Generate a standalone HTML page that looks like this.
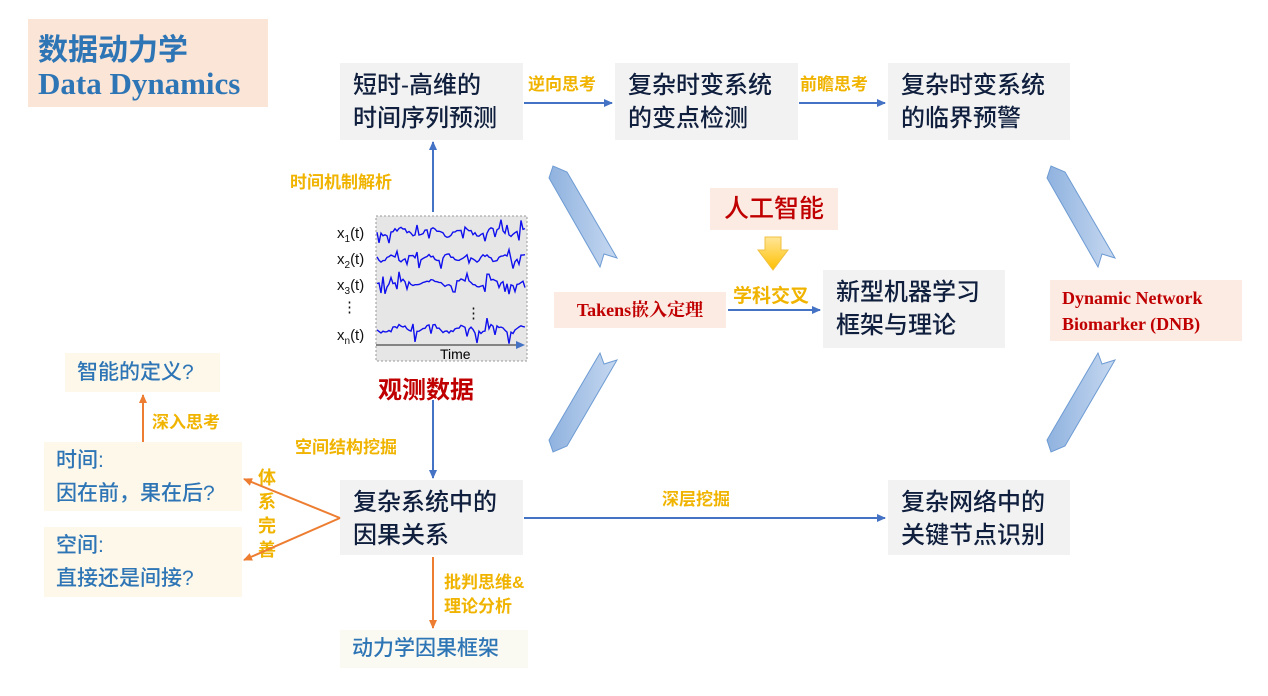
<!DOCTYPE html>
<html><head><meta charset="utf-8"><style>
body{margin:0;width:1268px;height:696px;background:#fff;position:relative;overflow:hidden;font-family:"Liberation Sans","Noto Sans CJK SC",sans-serif}
.a{position:absolute}
.g{position:absolute;background:#f2f2f2;color:#0f1f3d;font-size:24px;font-weight:500;line-height:33px;padding:6px 0 0 13px;box-sizing:border-box}
.o{position:absolute;color:#f0b400;font-weight:bold;font-size:17px;white-space:nowrap}
.y{position:absolute;background:#fdf8ea;color:#2e75b6;font-size:21px;font-weight:500;line-height:33px;box-sizing:border-box;padding-left:12px}
.p{position:absolute;background:#fcebe3;color:#c00000;font-weight:bold;font-family:"Liberation Serif","Noto Serif CJK SC",serif}
</style></head><body>
<div class="a" style="left:28px;top:19px;width:240px;height:88px;background:#fbe5d6;color:#2e75b6;font-weight:bold">
<div style="position:absolute;left:10px;top:6px;font-size:30px">数据动力学</div>
<div style="position:absolute;left:10px;top:47px;font-size:31px;font-family:'Liberation Serif',serif">Data Dynamics</div></div>

<div class="g" style="left:340px;top:63px;width:183px;height:77px">短时-高维的<br>时间序列预测</div>
<div class="g" style="left:615px;top:63px;width:183px;height:77px">复杂时变系统<br>的变点检测</div>
<div class="g" style="left:888px;top:63px;width:182px;height:77px">复杂时变系统<br>的临界预警</div>
<div class="g" style="left:823px;top:270px;width:182px;height:78px">新型机器学习<br>框架与理论</div>
<div class="g" style="left:340px;top:480px;width:183px;height:75px">复杂系统中的<br>因果关系</div>
<div class="g" style="left:888px;top:480px;width:182px;height:75px">复杂网络中的<br>关键节点识别</div>

<div class="o" style="left:528px;top:70px">逆向思考</div>
<div class="o" style="left:800px;top:70px">前瞻思考</div>
<div class="o" style="left:290px;top:168px">时间机制解析</div>
<div class="o" style="left:733px;top:281px;font-size:19px">学科交叉</div>
<div class="o" style="left:295px;top:433px">空间结构挖掘</div>
<div class="o" style="left:662px;top:485px">深层挖掘</div>
<div class="o" style="left:444px;top:571px;line-height:24px">批判思维&amp;<br>理论分析</div>
<div class="o" style="left:152px;top:408px">深入思考</div>
<div class="o" style="left:258px;top:466px;line-height:24px;font-size:18px">体<br>系<br>完<br>善</div>

<div class="p" style="left:710px;top:188px;width:128px;height:42px;font-family:'Liberation Sans','Noto Sans CJK SC',sans-serif;font-weight:500;font-size:25px;line-height:42px;text-align:center">人工智能</div>
<div class="p" style="left:554px;top:292px;width:172px;height:36px;font-size:18px;line-height:36px;text-align:center">Takens嵌入定理</div>
<div class="p" style="left:1050px;top:280px;width:192px;height:61px;font-size:18px;line-height:26px;padding:5px 0 0 12px;box-sizing:border-box">Dynamic Network<br>Biomarker (DNB)</div>
<div class="a" style="left:378px;top:370px;color:#c00000;font-size:24px;font-weight:bold">观测数据</div>

<div class="y" style="left:65px;top:353px;width:155px;height:39px;line-height:39px">智能的定义?</div>
<div class="y" style="left:44px;top:442px;width:198px;height:69px;padding-top:2px">时间:<br>因在前，果在后?</div>
<div class="y" style="left:44px;top:527px;width:198px;height:70px;padding-top:2px">空间:<br>直接还是间接?</div>
<div class="y" style="left:340px;top:630px;width:188px;height:38px;line-height:38px;background:#fafaf2">动力学因果框架</div>

<svg class="a" style="left:0;top:0" width="1268" height="696">
<defs>
<marker id="mb" markerWidth="10" markerHeight="10" refX="8" refY="5" orient="auto" markerUnits="userSpaceOnUse"><path d="M0,1 L9,5 L0,9z" fill="#4472c4"/></marker>
<marker id="mo" markerWidth="10" markerHeight="10" refX="8" refY="5" orient="auto" markerUnits="userSpaceOnUse"><path d="M0,1 L9,5 L0,9z" fill="#ed7d31"/></marker>
<linearGradient id="ch" x1="0" y1="0" x2="1" y2="0"><stop offset="0" stop-color="#8fb2df"/><stop offset="1" stop-color="#c6d8f0"/></linearGradient>
<linearGradient id="yl" x1="0" y1="0" x2="0" y2="1"><stop offset="0" stop-color="#ffe699"/><stop offset="1" stop-color="#ffc000"/></linearGradient>
</defs>
<g stroke="#4472c4" stroke-width="2" fill="none">
<line x1="524" y1="103" x2="612" y2="103" marker-end="url(#mb)"/>
<line x1="799" y1="103" x2="885" y2="103" marker-end="url(#mb)"/>
<line x1="433" y1="212" x2="433" y2="142" marker-end="url(#mb)"/>
<line x1="433" y1="400" x2="433" y2="478" marker-end="url(#mb)"/>
<line x1="728" y1="310" x2="820" y2="310" marker-end="url(#mb)"/>
<line x1="524" y1="518" x2="885" y2="518" marker-end="url(#mb)"/>
</g>
<g stroke="#ed7d31" stroke-width="2" fill="none">
<line x1="143" y1="442" x2="143" y2="395" marker-end="url(#mo)"/>
<line x1="340" y1="518" x2="244" y2="479" marker-end="url(#mo)"/>
<line x1="340" y1="518" x2="244" y2="560" marker-end="url(#mo)"/>
<line x1="433" y1="557" x2="433" y2="628" marker-end="url(#mo)"/>
</g>
<path d="M765,237 L781,237 L781,250 L788,250 L773,270 L758,250 L765,250z" fill="url(#yl)" stroke="#f0c040"/>
<g fill="url(#ch)" stroke="#6d9bd3" stroke-width="1">
<path d="M549,178 L553,166 L567,172 L617,258 L604,254 L600,267 Z"/>
<path d="M617,360 L604,364 L600,353 L549,440 L553,452 L567,446 Z"/>
<path d="M1047,178 L1051,166 L1065,172 L1115,258 L1102,254 L1098,267 Z"/>
<path d="M1115,360 L1102,364 L1098,353 L1047,440 L1051,452 L1065,446 Z"/>
</g>
<rect x="376" y="216" width="151" height="145" fill="#e6e6e6" stroke="#999" stroke-dasharray="2,2"/>
<line x1="376" y1="345" x2="524" y2="345" stroke="#222" marker-end="url(#mb)"/>
<text x="440" y="359" font-size="14" font-family="Liberation Sans">Time</text>
<g id="ts" stroke="#1010ee" stroke-width="1.4" fill="none"></g>
<g font-family="Liberation Sans" font-size="15" fill="#111">
<text x="337" y="238">x<tspan font-size="10" dy="4">1</tspan><tspan dy="-4">(t)</tspan></text>
<text x="337" y="264">x<tspan font-size="10" dy="4">2</tspan><tspan dy="-4">(t)</tspan></text>
<text x="337" y="290">x<tspan font-size="10" dy="4">3</tspan><tspan dy="-4">(t)</tspan></text>
<text x="342" y="312">⋮</text><text x="466" y="318">⋮</text>
<text x="337" y="340">x<tspan font-size="10" dy="4">n</tspan><tspan dy="-4">(t)</tspan></text>
</g>
</svg>
<script>
var g=document.getElementById('ts'),s=7;function r(){s=(s*9301+49297)%233280;return s/233280;}
[[232,6],[258,5],[283,5],[329,6]].forEach(function(b,i){var d='';for(var x=377;x<=525;x+=2){var ph=(x/(i==1?3:5));var y=b[0]+Math.sin(ph)*b[1]*0.6+(r()<0.12?b[1]*1.6*(r()<0.5?1:-1):0)+(r()-0.5)*b[1]*0.6;d+=(d?'L':'M')+x+','+y.toFixed(1);}
var p=document.createElementNS('http://www.w3.org/2000/svg','path');p.setAttribute('d',d);g.appendChild(p);});
</script>
</body></html>
